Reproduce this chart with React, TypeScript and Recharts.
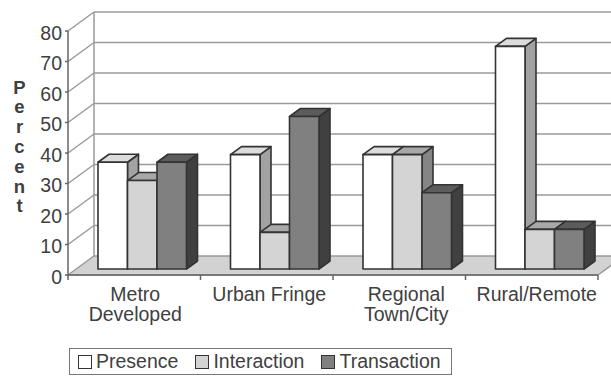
import { BarChart, Bar, XAxis, YAxis, Legend, ReferenceLine } from 'recharts';

const categories = ['Metro Developed', 'Urban Fringe', 'Regional Town/City', 'Rural/Remote'];
const presence = [35, 37.5, 37.5, 73];
const interaction = [29, 12, 37.5, 13];
const transaction = [35, 50, 25, 13];
const yTicks = [0, 10, 20, 30, 40, 50, 60, 70, 80];
const axisLetters = ['P', 'e', 'r', 'c', 'e', 'n', 't'];

const rows = categories.map((name, i) => ({
  name,
  presence: presence[i],
  interaction: interaction[i],
  transaction: transaction[i],
}));

const WIDTH = 611;
const HEIGHT = 376;
const PLOT_LEFT = 68;
const PLOT_RIGHT = 598;
const BAND = (PLOT_RIGHT - PLOT_LEFT) / categories.length;
const FONT = '"Liberation Sans", Arial, sans-serif';
const TEXT = '#404040';
const GRID = '#9a9a9a';
const AXIS = '#666666';

// how far the back wall sits behind the axis plane
const WALL_DX = 26;
const WALL_DY = -19;
// bars stand slightly inside the floor, and have their own depth
const BAR_SHIFT_X = 8;
const BAR_SHIFT_Y = -6;
const DEPTH_X = 11;
const DEPTH_Y = -8;
// category labels are not quite centred under their bands
const LABEL_NUDGE = [1, 2.5, 7, 5];

function Box({ x, y, width, height, fill, top, side }: any) {
  const l = x + BAR_SHIFT_X;
  const r = l + width;
  const t = y + BAR_SHIFT_Y;
  const b = t + height;
  const edge = { stroke: '#333333', strokeWidth: 1.6, strokeLinejoin: 'round' as const };
  return (
    <g>
      <polygon
        points={`${r},${t} ${r + DEPTH_X},${t + DEPTH_Y} ${r + DEPTH_X},${b + DEPTH_Y} ${r},${b}`}
        fill={side}
        {...edge}
      />
      <polygon
        points={`${l},${t} ${l + DEPTH_X},${t + DEPTH_Y} ${r + DEPTH_X},${t + DEPTH_Y} ${r},${t}`}
        fill={top}
        {...edge}
      />
      <rect x={l} y={t} width={width} height={height} fill={fill} {...edge} />
    </g>
  );
}

// gridline on the back wall plus the diagonal back to the y axis
function WallLine({ x1, y1, x2 }: any) {
  return (
    <g stroke={GRID} strokeWidth={1.5} fill="none">
      <line x1={x1} y1={y1} x2={x1 + WALL_DX} y2={y1 + WALL_DY} />
      <line x1={x1 + WALL_DX} y1={y1 + WALL_DY} x2={x2 + WALL_DX} y2={y1 + WALL_DY} />
    </g>
  );
}

function Floor({ x1, y1, x2 }: any) {
  return (
    <polygon
      points={`${x1},${y1} ${x1 + WALL_DX},${y1 + WALL_DY} ${x2 + WALL_DX},${y1 + WALL_DY} ${x2},${y1}`}
      fill="#d2d2d2"
      stroke={GRID}
      strokeWidth={1.5}
    />
  );
}

function WallEdge({ x1, y1, y2 }: any) {
  const x = x1 - BAND / 2 + WALL_DX;
  return <line x1={x} y1={y1 + WALL_DY} x2={x} y2={y2 + WALL_DY} stroke={GRID} strokeWidth={1.5} />;
}

function CategoryTick({ x, y, payload, index }: any) {
  const words = String(payload.value);
  const lines = words === 'Urban Fringe' || words === 'Rural/Remote' ? [words] : words.split(' ');
  const last = index === categories.length - 1;
  const labelX = x + LABEL_NUDGE[index];
  return (
    <g>
      <line x1={x - BAND / 2} y1={275} x2={x - BAND / 2} y2={280} stroke={AXIS} strokeWidth={1.5} />
      {last && <line x1={x + BAND / 2} y1={275} x2={x + BAND / 2} y2={280} stroke={AXIS} strokeWidth={1.5} />}
      <text x={labelX} y={y} textAnchor="middle" fontFamily={FONT} fontSize={19.5} fill={TEXT}>
        {lines.map((line: string, i: number) => (
          <tspan key={line} x={labelX} y={301 + i * 20}>
            {line}
          </tspan>
        ))}
      </text>
    </g>
  );
}

function StackedAxisLabel() {
  return (
    <text textAnchor="middle" fontFamily={FONT} fontSize={18.5} fontWeight="bold" fill={TEXT}>
      {axisLetters.map((letter, i) => (
        <tspan key={i} x={19.5} y={93.5 + i * 19.8}>
          {letter}
        </tspan>
      ))}
    </text>
  );
}

function LegendBox({ payload }: any) {
  return (
    <div
      style={{
        boxSizing: 'border-box',
        width: 383,
        height: 27,
        border: '1.5px solid #777777',
        display: 'flex',
        alignItems: 'center',
        paddingLeft: 8,
        fontFamily: FONT,
        fontSize: 19.5,
        color: TEXT,
        background: '#ffffff',
      }}
    >
      {(payload ?? []).map((entry: any) => (
        <span key={entry.value} style={{ display: 'flex', alignItems: 'center', marginRight: 17 }}>
          <span
            style={{
              display: 'inline-block',
              boxSizing: 'border-box',
              width: 14,
              height: 14,
              border: '1.6px solid #333333',
              background: entry.color,
              marginRight: 4,
            }}
          />
          {entry.value}
        </span>
      ))}
    </div>
  );
}

export default function App() {
  return (
    <div style={{ position: 'absolute', left: 0, top: 0, width: WIDTH, height: HEIGHT, background: '#fff', overflow: 'hidden' }}>
      <BarChart
        width={WIDTH}
        height={HEIGHT}
        data={rows}
        margin={{ top: 31, right: WIDTH - PLOT_RIGHT, bottom: 0, left: 0 }}
        barSize={29.5}
        barGap={0}
      >
        <XAxis
          dataKey="name"
          height={HEIGHT - 275}
          interval={0}
          tick={<CategoryTick />}
          tickLine={false}
          axisLine={{ stroke: AXIS, strokeWidth: 1.5 }}
        />
        <YAxis
          width={PLOT_LEFT}
          domain={[0, 80]}
          ticks={yTicks}
          interval={0}
          tickSize={3}
          tickMargin={3}
          tick={{ fontFamily: FONT, fontSize: 19.5, fill: TEXT, dy: 2 }}
          tickLine={{ stroke: AXIS, strokeWidth: 1.5 }}
          axisLine={{ stroke: AXIS, strokeWidth: 1.5 }}
          label={<StackedAxisLabel />}
        />
        <ReferenceLine y={0} shape={<Floor />} zIndex={-60} />
        {yTicks.slice(1).map((v) => (
          <ReferenceLine key={v} y={v} shape={<WallLine />} zIndex={-50} />
        ))}
        <ReferenceLine x={categories[0]} shape={<WallEdge />} zIndex={-50} />
        <Legend
          verticalAlign="middle"
          align="center"
          layout="horizontal"
          itemSorter={null}
          wrapperStyle={{ left: 69, top: 348, width: 383, height: 27 }}
          content={<LegendBox />}
        />
        <Bar
          dataKey="presence"
          name="Presence"
          fill="#ffffff"
          isAnimationActive={false}
          shape={<Box top="#dcdcdc" side="#a2a2a2" />}
        />
        <Bar
          dataKey="interaction"
          name="Interaction"
          fill="#d4d4d4"
          isAnimationActive={false}
          shape={<Box top="#a8a8a8" side="#858585" />}
        />
        <Bar
          dataKey="transaction"
          name="Transaction"
          fill="#808080"
          isAnimationActive={false}
          shape={<Box top="#5c5c5c" side="#404040" />}
        />
      </BarChart>
    </div>
  );
}
